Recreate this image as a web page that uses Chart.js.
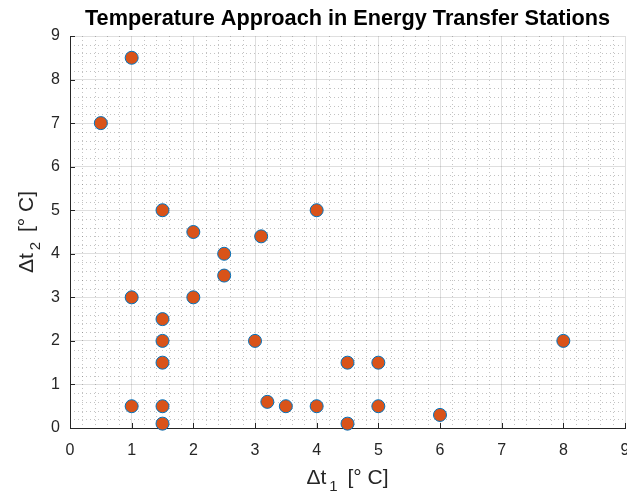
<!DOCTYPE html>
<html>
<head>
<meta charset="utf-8">
<script src="https://cdn.jsdelivr.net/npm/chart.js@4.4.1/dist/chart.umd.min.js"></script>
<style>
  html, body { margin: 0; padding: 0; background: #fff; }
  #wrap { width: 627px; height: 495px; }
</style>
</head>
<body>
<div id="wrap"><canvas id="chart"></canvas></div>
<script>
//scatter data
const dt1 = [0.5, 1, 1, 1, 1.5, 1.5, 1.5, 1.5, 1.5, 1.5, 2, 2, 2.5, 2.5, 3, 3.1, 3.2, 3.5, 4, 4, 4.5, 4.5, 5, 5, 6, 8];
const dt2 = [7, 8.5, 3, 0.5, 5, 2.5, 2, 1.5, 0.5, 0.1, 4.5, 3, 4, 3.5, 2, 4.4, 0.6, 0.5, 5, 0.5, 1.5, 0.1, 1.5, 0.5, 0.3, 2];
const xTicks = [0, 1, 2, 3, 4, 5, 6, 7, 8, 9];
const yTicks = [0, 1, 2, 3, 4, 5, 6, 7, 8, 9];
const titleText = "Temperature Approach in Energy Transfer Stations";

const FONT = "'Liberation Sans', Arial, Helvetica, sans-serif";
const AXIS_COLOR = "#262626";

//minor dotted grid, inward ticks, title and axis labels (matlab look)
const matlabAxes = {
  id: "matlabAxes",
  beforeDatasetsDraw(chart) {
    const { ctx, chartArea: a, scales: { x, y } } = chart;
    ctx.save();
    ctx.strokeStyle = "rgba(38,38,38,0.28)";
    ctx.lineWidth = 1;
    ctx.setLineDash([1, 3]);
    for (let i = 0; i < 45; i++) {
      if (i % 5 === 0) continue;
      const px = Math.round(x.getPixelForValue(i / 5)) + 0.5;
      ctx.beginPath(); ctx.moveTo(px, a.top); ctx.lineTo(px, a.bottom); ctx.stroke();
      const py = Math.round(y.getPixelForValue(i / 5)) + 0.5;
      ctx.beginPath(); ctx.moveTo(a.left, py); ctx.lineTo(a.right, py); ctx.stroke();
    }
    ctx.setLineDash([]);
    ctx.strokeStyle = AXIS_COLOR;
    xTicks.forEach((v) => {
      const px = Math.round(x.getPixelForValue(v)) + 0.5;
      ctx.beginPath(); ctx.moveTo(px, a.bottom); ctx.lineTo(px, a.bottom - 5); ctx.stroke();
    });
    yTicks.forEach((v) => {
      const py = Math.round(y.getPixelForValue(v)) + 0.5;
      ctx.beginPath(); ctx.moveTo(a.left, py); ctx.lineTo(a.left + 5, py); ctx.stroke();
    });
    ctx.restore();
  },
  afterDraw(chart) {
    const { ctx, chartArea: a } = chart;
    const midX = (a.left + a.right) / 2;
    //title centred over the axes
    ctx.save();
    ctx.fillStyle = "#000";
    ctx.font = "bold 21.7px " + FONT;
    ctx.textAlign = "center";
    ctx.textBaseline = "alphabetic";
    ctx.fillText(titleText, midX, 25);
    ctx.restore();
    //axis labels with subscript
    function drawLabel(sub) {
      const big = "21px " + FONT, small = "15px " + FONT;
      ctx.font = big; const w1 = ctx.measureText("\u0394t").width;
      ctx.font = small; const w2 = ctx.measureText(sub).width;
      ctx.font = big; const w3 = ctx.measureText(" [\u00B0 C]").width;
      let x0 = -(w1 + w2 + w3 + 7) / 2;
      ctx.fillStyle = AXIS_COLOR;
      ctx.textBaseline = "alphabetic";
      ctx.textAlign = "left";
      ctx.font = big; ctx.fillText("\u0394t", x0, 0);
      ctx.font = small; ctx.fillText(sub, x0 + w1 + 3, 7);
      ctx.font = big; ctx.fillText(" [\u00B0 C]", x0 + w1 + w2 + 7, 0);
    }
    ctx.save();
    ctx.translate(midX, 484);
    drawLabel("1");
    ctx.restore();
    ctx.save();
    ctx.translate(33, (a.top + a.bottom) / 2);
    ctx.rotate(-Math.PI / 2);
    drawLabel("2");
    ctx.restore();
  }
};

document.addEventListener("DOMContentLoaded", () => {
  const ctx = document.getElementById("chart").getContext("2d");
  Chart.defaults.font.family = FONT;
  Chart.defaults.color = AXIS_COLOR;

  new Chart(ctx, {
    type: "scatter",
    data: {
      datasets: [{
        data: dt1.map((v, i) => ({ x: v, y: dt2[i] })),
        backgroundColor: "#D95319",
        borderColor: "#0072BD",
        borderWidth: 1,
        pointRadius: 6.5,
        pointHoverRadius: 6.5,
        clip: false
      }]
    },
    options: {
      responsive: true,
      maintainAspectRatio: false,
      animation: false,
      layout: { autoPadding: false, padding: { left: 0, right: 2, top: 36, bottom: 0 } },
      plugins: {
        legend: { display: false },
        tooltip: { enabled: false },
        title: { display: false }
      },
      scales: {
        x: {
          type: "linear",
          min: 0, max: 9,
          ticks: { stepSize: 1, font: { size: 16 }, padding: 13, maxRotation: 0 },
          grid: { color: "rgba(38,38,38,0.15)", tickLength: 0 },
          border: { color: AXIS_COLOR, width: 1 },
          afterFit(scale) { scale.height = 67; scale.paddingLeft = 0; scale.paddingRight = 0; }
        },
        y: {
          type: "linear",
          min: 0, max: 9,
          ticks: { stepSize: 1, font: { size: 16 }, padding: 10 },
          grid: { color: "rgba(38,38,38,0.15)", tickLength: 0 },
          border: { color: AXIS_COLOR, width: 1 },
          afterFit(scale) { scale.width = 70; }
        }
      }
    },
    plugins: [matlabAxes]
  });
});
</script>
</body>
</html>
